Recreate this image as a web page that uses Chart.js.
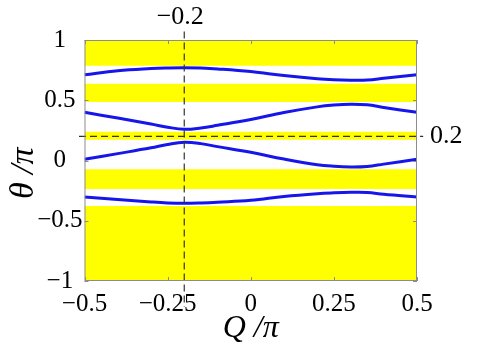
<!DOCTYPE html>
<html>
<head>
<meta charset="utf-8">
<script src="https://cdn.jsdelivr.net/npm/chart.js@4"></script>
<style>
  html, body { margin: 0; padding: 0; background: #fff; }
  #wrap { width: 485px; height: 350px; }
</style>
</head>
<body>
<div id="wrap"><canvas id="chart" width="485" height="350"></canvas></div>
<script>
// data (Q/pi on x, theta/pi on y)
const qValues = [-0.5, -0.4, -0.3, -0.25, -0.2, -0.15, -0.1, 0, 0.1, 0.2, 0.25, 0.3, 0.35, 0.4, 0.5];
const band1 = [0.712, 0.745, 0.763, 0.768, 0.770, 0.767, 0.760, 0.738, 0.705, 0.678, 0.670, 0.667, 0.668, 0.682, 0.712];
const band2 = [0.400, 0.352, 0.303, 0.276, 0.259, 0.270, 0.292, 0.340, 0.398, 0.445, 0.460, 0.467, 0.462, 0.440, 0.400];
const band3 = [0.010, 0.057, 0.105, 0.133, 0.151, 0.140, 0.115, 0.068, 0.012, -0.035, -0.048, -0.054, -0.050, -0.030, 0.010];
const band4 = [-0.302, -0.324, -0.344, -0.352, -0.355, -0.352, -0.346, -0.330, -0.298, -0.275, -0.268, -0.264, -0.265, -0.280, -0.302];

// yellow stripes (top, bottom)
const stripeTop = [1, 0.637, 0.239, -0.073, -0.378];
const stripeBottom = [0.787, 0.485, 0.173, -0.237, -1];

const xTicks = [-0.5, -0.25, 0, 0.25, 0.5];
const yTicks = [-1, -0.5, 0, 0.5, 1];
const markX = -0.2;
const markY = 0.2;

const serif = '"Liberation Serif", "DejaVu Serif", serif';
const fmt = v => String(v).replace('-', '\u2212');

const datasets = [];
[band1, band2, band3, band4].forEach(vals => {
  datasets.push({
    data: qValues.map((q, i) => ({ x: q, y: vals[i] })),
    borderColor: 'rgb(22,22,235)',
    borderWidth: 3,
    pointRadius: 0,
    tension: 0.4,
    fill: false,
    order: 2
  });
});
stripeTop.forEach((top, i) => {
  datasets.push({
    data: [{ x: -0.5, y: top }, { x: 0.5, y: top }],
    borderWidth: 0,
    borderColor: 'rgba(0,0,0,0)',
    backgroundColor: '#ffff00',
    pointRadius: 0,
    fill: { value: stripeBottom[i] },
    order: 5
  });
});
// dashed guides, running a bit past the frame
datasets.push({
  data: [{ x: markX, y: 1.07 }, { x: markX, y: -1.215 }],
  borderColor: '#333', borderWidth: 1.2, borderDash: [7, 4],
  pointRadius: 0, fill: false, clip: false, order: 0
});
datasets.push({
  data: [{ x: -0.5165, y: markY }, { x: 0.517, y: markY }],
  borderColor: '#333', borderWidth: 1.2, borderDash: [7, 4],
  pointRadius: 0, fill: false, clip: false, order: 0
});

const frame = {
  id: 'frame',
  afterDatasetsDraw(chart) {
    const { ctx, chartArea: a, scales } = chart;
    ctx.save();
    ctx.strokeStyle = '#8c8c8c';
    ctx.lineWidth = 1;
    ctx.strokeRect(a.left + 0.5, a.top + 0.5, a.right - a.left - 1, a.bottom - a.top - 1);
    ctx.beginPath();
    xTicks.forEach(v => {
      const px = Math.round(scales.x.getPixelForValue(v)) + 0.5;
      ctx.moveTo(px, a.bottom); ctx.lineTo(px, a.bottom - 4);
      ctx.moveTo(px, a.top); ctx.lineTo(px, a.top + 4);
    });
    yTicks.forEach(v => {
      const py = Math.round(scales.y.getPixelForValue(v)) + 0.5;
      ctx.moveTo(a.left, py); ctx.lineTo(a.left + 4, py);
      ctx.moveTo(a.right, py); ctx.lineTo(a.right - 4, py);
    });
    ctx.stroke();
    ctx.restore();
  },
  afterDraw(chart) {
    const { ctx, scales } = chart;
    ctx.save();
    ctx.fillStyle = '#000';
    ctx.font = '26px ' + serif;
    ctx.textBaseline = 'middle';
    ctx.textAlign = 'center';
    ctx.fillText(fmt(markX), scales.x.getPixelForValue(markX) - 4, 17);
    ctx.textAlign = 'left';
    const py = scales.y.getPixelForValue(markY);
    ctx.fillStyle = '#333';
    ctx.fillRect(chart.chartArea.right + 5, py - 0.5, 1.2, 1.2);
    ctx.fillStyle = '#000';
    ctx.fillText(fmt(markY), chart.chartArea.right + 13, py);
    ctx.restore();
  }
};

new Chart(document.getElementById('chart'), {
  type: 'line',
  data: { datasets },
  options: {
    responsive: false,
    animation: false,
    events: [],
    layout: { padding: { left: 0, right: 68, top: 40, bottom: 0 } },
    plugins: { legend: { display: false }, tooltip: { enabled: false } },
    scales: {
      x: {
        type: 'linear',
        min: -0.5, max: 0.5,
        afterBuildTicks: s => { s.ticks = xTicks.map(v => ({ value: v })); },
        afterFit: s => { s.height = 69; },
        grid: { display: false, drawTicks: false },
        border: { display: false },
        ticks: {
          color: '#000', padding: 8, maxRotation: 0, autoSkip: false,
          font: { family: serif, size: 25 },
          callback: v => fmt(v)
        },
        title: {
          display: true, text: 'Q /\u03c0', color: '#000',
          font: { family: serif, size: 32, style: 'italic' },
          padding: { top: 0, bottom: 2 }
        }
      },
      y: {
        type: 'linear',
        min: -1, max: 1,
        afterBuildTicks: s => { s.ticks = yTicks.map(v => ({ value: v })); },
        afterFit: s => { s.width = 84.5; },
        grid: { display: false, drawTicks: false },
        border: { display: false },
        ticks: {
          color: '#000', padding: 2, crossAlign: 'center', autoSkip: false,
          font: { family: serif, size: 25 },
          callback: v => fmt(v)
        },
        title: {
          display: true, text: '\u03b8 /\u03c0   ', color: '#000',
          font: { family: serif, size: 34, style: 'italic' },
          padding: { top: 4, bottom: 0 }
        }
      }
    }
  },
  plugins: [frame]
});
</script>
</body>
</html>
